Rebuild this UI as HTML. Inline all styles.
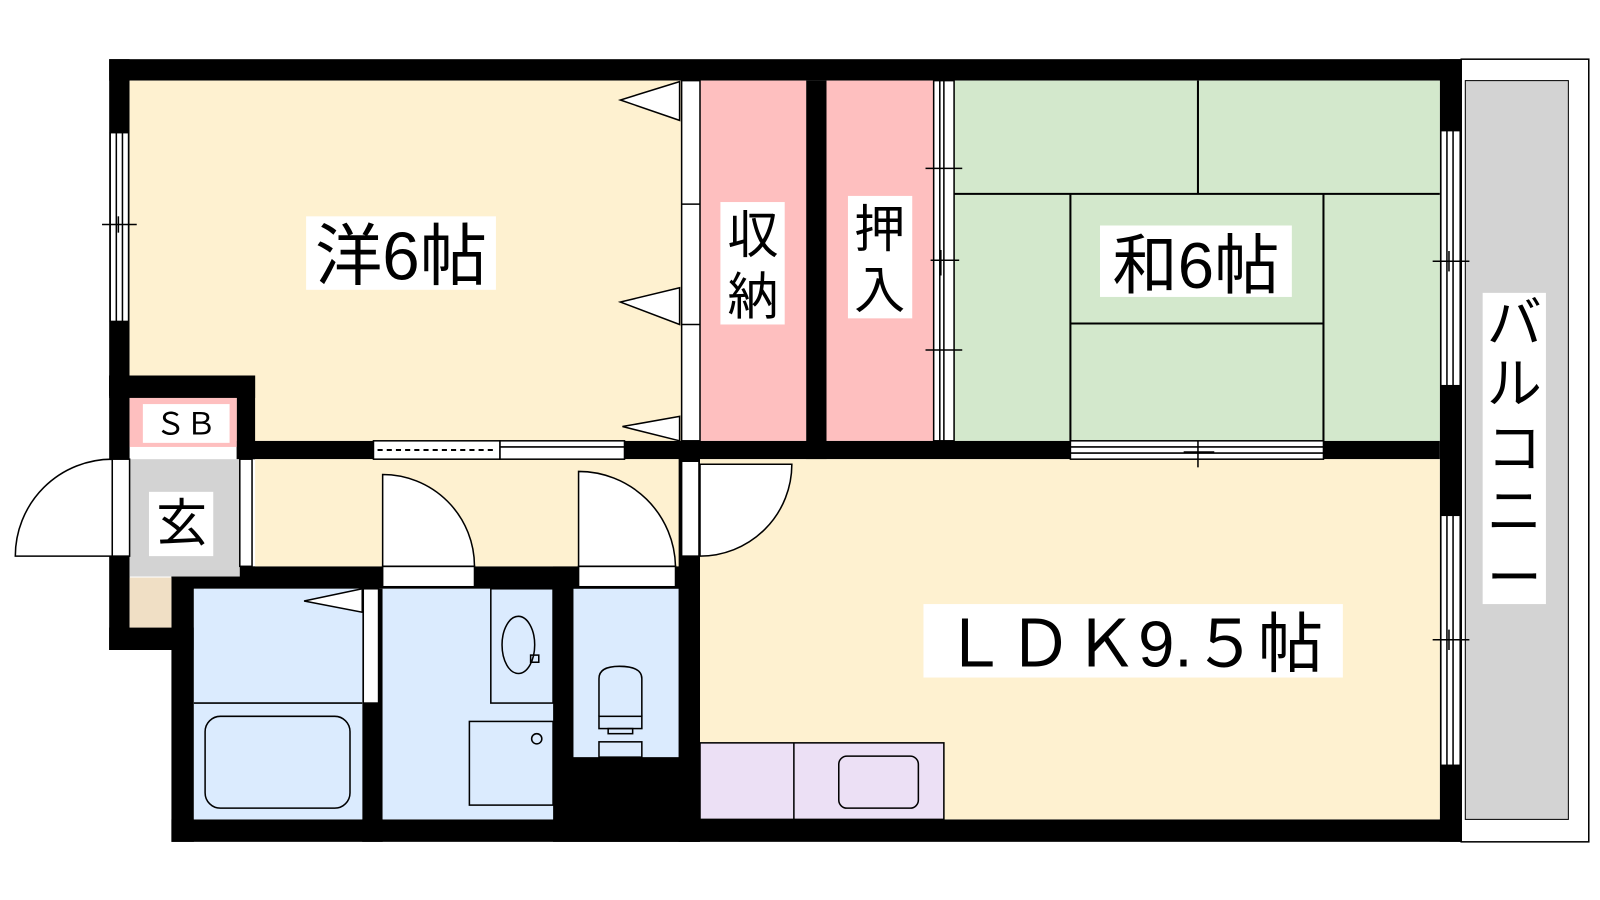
<!DOCTYPE html>
<html><head><meta charset="utf-8"><style>
html,body{margin:0;padding:0;background:#fff;width:1600px;height:900px;overflow:hidden}
text{font-family:"Liberation Sans","Noto Sans CJK JP",sans-serif}
</style></head><body>
<svg width="1600" height="900" viewBox="0 0 1568 882" preserveAspectRatio="none" xmlns="http://www.w3.org/2000/svg">
<rect x="1432" y="58" width="125" height="767" fill="#fff" stroke="#000" stroke-width="1.5"/>
<rect x="1436" y="79" width="101" height="724" fill="#d3d3d3" stroke="#000" stroke-width="1"/>
<rect x="107" y="58" width="1325" height="21" fill="#000"/>
<rect x="107" y="58" width="20" height="330" fill="#000"/>
<rect x="1411" y="58" width="21" height="767" fill="#000"/>
<rect x="168" y="803" width="1264" height="22" fill="#000"/>
<rect x="107" y="368" width="20" height="269" fill="#000"/>
<rect x="107" y="615" width="83" height="22" fill="#000"/>
<rect x="168" y="555" width="22" height="270" fill="#000"/>
<rect x="168" y="555" width="518" height="22" fill="#000"/>
<rect x="232" y="432" width="1179" height="18" fill="#000"/>
<rect x="790" y="79" width="20" height="371" fill="#000"/>
<rect x="665" y="432" width="21" height="393" fill="#000"/>
<rect x="542" y="555" width="144" height="270" fill="#000"/>
<rect x="355" y="577" width="20" height="248" fill="#000"/>
<rect x="127" y="79" width="541" height="353" fill="#fef1d0"/>
<rect x="107" y="368" width="143" height="22" fill="#000"/>
<rect x="232" y="368" width="18" height="82" fill="#000"/>
<rect x="686" y="79" width="104" height="353" fill="#febfbf"/>
<rect x="810" y="79" width="105" height="353" fill="#febfbf"/>
<rect x="935" y="79" width="476" height="353" fill="#d3e8cc"/>
<g stroke="#000" stroke-width="2" fill="none">
<line x1="935" y1="190" x2="1411" y2="190"/><line x1="1174" y1="79" x2="1174" y2="190"/>
<line x1="1049" y1="190" x2="1049" y2="432"/><line x1="1297" y1="190" x2="1297" y2="432"/>
<line x1="1049" y1="317" x2="1297" y2="317"/>
</g>
<rect x="127" y="390" width="105" height="48" fill="#febfbf"/>
<rect x="127" y="450" width="108" height="115" fill="#d3d3d3"/>
<rect x="127" y="566" width="41" height="49" fill="#f0dfc5"/>
<rect x="250" y="450" width="415" height="105" fill="#fef1d0"/>
<rect x="686" y="450" width="725" height="353" fill="#fef1d0"/>
<rect x="686" y="728" width="239" height="75" fill="#ece0f5" stroke="#000" stroke-width="1.5"/>
<line x1="778" y1="728" x2="778" y2="803" stroke="#000" stroke-width="1.5"/>
<rect x="822" y="741" width="78" height="51" rx="8" fill="none" stroke="#000" stroke-width="1.5"/>
<rect x="190" y="577" width="165" height="226" fill="#dbebfe"/>
<rect x="375" y="577" width="167" height="226" fill="#dbebfe"/>
<rect x="562" y="577" width="103" height="165" fill="#dbebfe"/>
<g stroke="#000" stroke-width="1.5" fill="none">
<line x1="190" y1="689" x2="355" y2="689"/>
<rect x="201" y="702" width="142" height="90" rx="15"/>
<rect x="481" y="577" width="61" height="112"/>
<ellipse cx="508" cy="632" rx="16" ry="28"/>
<rect x="520" y="642" width="8" height="7"/>
<rect x="460" y="707" width="82" height="82"/>
<circle cx="526" cy="724" r="5"/>
<path d="M587 702 V665 Q587 653 607 653 Q629 653 629 665 V702"/>
<rect x="587" y="702" width="42" height="12" fill="#dbebfe"/>
<rect x="596" y="714" width="24" height="5"/>
<rect x="587" y="727" width="42" height="15"/>
</g>
<g fill="#fff" stroke="#000" stroke-width="1.5">
<rect x="668" y="79" width="18" height="353"/>
<line x1="668" y1="200" x2="686" y2="200"/><line x1="668" y1="318" x2="686" y2="318"/>
<rect x="915" y="79" width="20" height="353"/>
<line x1="921" y1="79" x2="921" y2="432"/><line x1="925" y1="79" x2="925" y2="432"/>
<rect x="366" y="432" width="124" height="18"/>
<rect x="490" y="432" width="122" height="18"/>
<line x1="490" y1="438" x2="612" y2="438"/>
<rect x="1049" y="432" width="248" height="18"/>
<line x1="1049" y1="438" x2="1297" y2="438"/><line x1="1049" y1="444" x2="1297" y2="444"/>
<rect x="108" y="130" width="18" height="185"/>
<line x1="114" y1="130" x2="114" y2="315"/><line x1="120" y1="130" x2="120" y2="315"/>
<rect x="1412" y="128" width="19" height="250"/>
<line x1="1418" y1="128" x2="1418" y2="378"/><line x1="1424" y1="128" x2="1424" y2="378"/>
<rect x="1412" y="505" width="19" height="245"/>
<line x1="1418" y1="505" x2="1418" y2="750"/><line x1="1424" y1="505" x2="1424" y2="750"/>
<rect x="110" y="450" width="17" height="95"/>
<rect x="235" y="450" width="12" height="105"/>
<rect x="668" y="452" width="17" height="93"/>
<rect x="375" y="555" width="90" height="20"/>
<rect x="567" y="555" width="95" height="20"/>
<rect x="356" y="577" width="15" height="112"/>
</g>
<line x1="370" y1="441" x2="486" y2="441" stroke="#000" stroke-width="2" stroke-dasharray="5,4"/>
<g stroke="#000" stroke-width="1.5">
<line x1="100" y1="220" x2="134" y2="220"/><line x1="116" y1="212" x2="116" y2="228"/>
<line x1="907" y1="165" x2="943" y2="165"/><line x1="907" y1="343" x2="943" y2="343"/>
<line x1="912" y1="255" x2="940" y2="255"/><line x1="922" y1="245" x2="922" y2="270"/>
<line x1="1174" y1="432" x2="1174" y2="458"/><line x1="1160" y1="443" x2="1190" y2="443"/>
<line x1="1404" y1="256" x2="1440" y2="256"/><line x1="1420" y1="246" x2="1420" y2="266"/>
<line x1="1404" y1="627" x2="1440" y2="627"/><line x1="1420" y1="617" x2="1420" y2="637"/>
</g>
<g fill="#fff" stroke="#000" stroke-width="1.5">
<polygon points="666,80 608,98 666,118"/>
<polygon points="666,282 608,296 666,318"/>
<polygon points="666,408 610,418 666,432"/>
<polygon points="355,577 298,589 355,600"/>
</g>
<g fill="#fff" stroke="#000" stroke-width="1.5">
<path d="M110 545 H15 A95 95 0 0 1 110 450 Z"/>
<path d="M375 555 V465 A90 90 0 0 1 465 555 Z"/>
<path d="M567 555 V462 A95 95 0 0 1 662 555 Z"/>
<path d="M686 545 V455 H776 A90 90 0 0 1 686 545 Z"/>
</g>
<rect x="300" y="212" width="186" height="72" fill="#fff"/>
<text x="393" y="274" font-size="66" text-anchor="middle">洋6帖</text>
<rect x="706" y="198" width="63" height="120" fill="#fff"/>
<text x="738" y="248" font-size="50" text-anchor="middle">収</text>
<text x="738" y="308" font-size="50" text-anchor="middle">納</text>
<rect x="831" y="192" width="63" height="120" fill="#fff"/>
<text x="862" y="242" font-size="50" text-anchor="middle">押</text>
<text x="862" y="302" font-size="50" text-anchor="middle">入</text>
<rect x="1078" y="221" width="188" height="70" fill="#fff"/>
<text x="1172" y="282" font-size="64" text-anchor="middle">和6帖</text>
<rect x="1453" y="287" width="62" height="305" fill="#fff"/>
<g font-size="54" text-anchor="middle"><text x="1484" y="335">バ</text><text x="1484" y="395">ル</text><text x="1484" y="458">コ</text><text x="1484" y="520">ニ</text><text x="1484" y="585">ー</text></g>
<rect x="905" y="592" width="411" height="72" fill="#fff"/>
<text x="1110" y="653" font-size="64" text-anchor="middle">ＬＤＫ9.５帖</text>
<rect x="140" y="396" width="85" height="38" fill="#fff"/>
<text x="182" y="426" font-size="30" text-anchor="middle">ＳＢ</text>
<rect x="146" y="482" width="63" height="63" fill="#fff"/>
<text x="178" y="530" font-size="50" text-anchor="middle">玄</text>
</svg>
</body></html>
